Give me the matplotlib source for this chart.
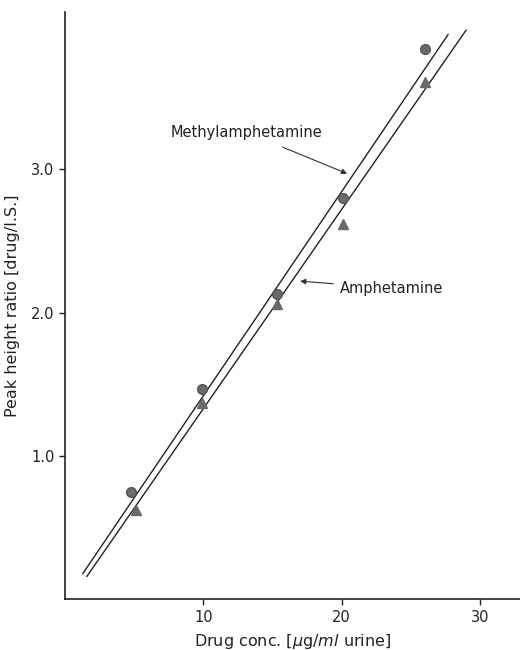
import matplotlib
matplotlib.use("Agg")
import matplotlib.pyplot as plt
import numpy as np

plt.rcParams['font.family'] = ['DejaVu Sans']

# measured points
conc = [4.8, 9.9, 15.3, 20.1, 26.0]
methyl_ratio = [0.75, 1.47, 2.13, 2.80, 3.84]
amph_conc = [5.1, 9.9, 15.3, 20.1, 26.0]
amph_ratio = [0.62, 1.37, 2.06, 2.62, 3.61]

# fitted lines: slope, intercept, x range
methyl_fit = [0.1424, -0.004]
methyl_range = [1.29, 27.7]
amph_fit = [0.139, -0.06]
amph_range = [1.58, 29.0]

x_ticks = [10, 20, 30]
y_ticks = [1.0, 2.0, 3.0]

fig = plt.figure(figsize=(5.2, 6.5), dpi=100)
ax = fig.add_axes([0.125, 0.078, 0.875, 0.904])

for fit, rng in [(methyl_fit, methyl_range), (amph_fit, amph_range)]:
    xs = np.array(rng)
    ax.plot(xs, fit[0] * xs + fit[1], color='#222222', lw=1.0)

ax.plot(conc, methyl_ratio, 'o', color='#6a6a6a', ms=7, mec='#555555')
ax.plot(amph_conc, amph_ratio, '^', color='#6a6a6a', ms=7, mec='#6a6a6a')

ax.annotate('Methylamphetamine', xy=(20.4, 2.97), xytext=(13.1, 3.26),
            ha='center', va='center', fontsize=10.5, color='#222222',
            arrowprops=dict(arrowstyle='-|>', color='#333333', lw=0.8,
                            shrinkA=9, shrinkB=0, mutation_scale=8))
ax.annotate('Amphetamine', xy=(17.0, 2.22), xytext=(19.9, 2.17),
            ha='left', va='center', fontsize=10.5, color='#222222',
            arrowprops=dict(arrowstyle='-|>', color='#333333', lw=0.8,
                            shrinkA=3, shrinkB=0, mutation_scale=8))

ax.set_xlim(0, 32.9)
ax.set_ylim(0, 4.1)
ax.set_xticks(x_ticks)
ax.set_yticks(y_ticks)
ax.set_yticklabels(['%.1f' % v for v in y_ticks])
ax.tick_params(direction='out', length=4, width=1, labelsize=10.5, colors='#222222')

for side in ['top', 'right']:
    ax.spines[side].set_visible(False)
for side in ['left', 'bottom']:
    ax.spines[side].set_linewidth(1.2)
    ax.spines[side].set_color('#222222')

ax.set_xlabel(r'Drug conc. [$\mu$g/$ml$ urine]', fontsize=11.5, color='#222222', labelpad=5)
ax.set_ylabel('Peak height ratio [drug/I.S.]', fontsize=11.5, color='#222222', labelpad=8)

fig.savefig('out.png', dpi=100)
